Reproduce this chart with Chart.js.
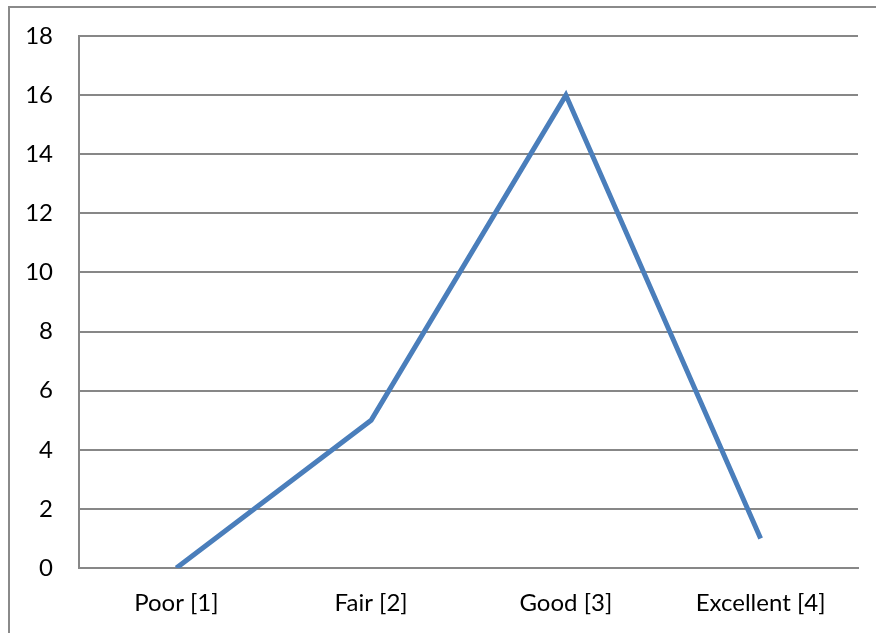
<!DOCTYPE html>
<html>
<head>
<meta charset="utf-8">
<script src="https://cdn.jsdelivr.net/npm/chart.js@4/dist/chart.umd.min.js"></script>
<style>
html,body{margin:0;padding:0;background:#fff;}
#wrap{width:876px;height:633px;position:relative;}
</style>
</head>
<body>
<div id="wrap"><canvas id="c" width="876" height="633"></canvas></div>
<script>
const categories = ["Poor [1]", "Fair [2]", "Good [3]", "Excellent [4]"];
const counts = [0, 5, 16, 1];
const yMin = 0, yMax = 18, yStep = 2;

const frame = {
  id: 'frame',
  beforeDraw(chart) {
    const ctx = chart.ctx;
    ctx.save();
    ctx.strokeStyle = '#8a8a8a';
    ctx.lineWidth = 2;
    ctx.beginPath();
    ctx.moveTo(9, 640);
    ctx.lineTo(9, 7);
    ctx.lineTo(880, 7);
    ctx.stroke();
    ctx.restore();
  }
};

new Chart(document.getElementById('c'), {
  type: 'line',
  data: {
    labels: categories,
    datasets: [{
      data: counts,
      borderColor: '#4a7ebb',
      borderWidth: 5,
      pointRadius: 0,
      tension: 0,
      fill: false
    }]
  },
  options: {
    responsive: false,
    animation: false,
    layout: { padding: { left: 0, top: 36, right: 18, bottom: 0 } },
    plugins: { legend: { display: false }, tooltip: { enabled: false } },
    scales: {
      x: {
        offset: true,
        grid: { display: false, drawTicks: false },
        border: { display: true, color: '#878787', width: 2 },
        ticks: { color: '#000', font: { family: 'Lato', size: 24 }, padding: 21, maxRotation: 0 },
        afterFit(s) { s.height = 65; s.paddingLeft = 0; s.paddingRight = 0; }
      },
      y: {
        min: yMin, max: yMax,
        grid: { color: '#878787', lineWidth: 2, drawTicks: false },
        border: { display: true, color: '#878787', width: 2 },
        ticks: { stepSize: yStep, color: '#000', font: { family: 'Lato', size: 24 }, padding: 26 },
        afterFit(s) { s.width = 79; s.paddingTop = 0; s.paddingBottom = 0; }
      }
    }
  },
  plugins: [frame]
});
</script>
</body>
</html>
